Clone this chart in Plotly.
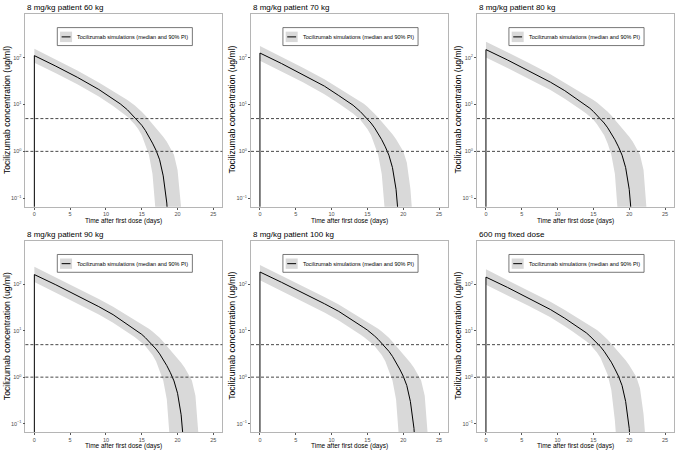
import plotly.graph_objects as go

# time grid (days after first dose)
days = [0, 3, 6, 9, 11, 12, 13, 14, 14.5, 15, 15.5, 16, 16.5, 17, 17.5, 18,
        18.5, 19, 19.5, 20, 20.5, 21, 21.5, 22, 22.5, 23, 23.5, 24]

titles = ['8 mg/kg patient 60 kg', '8 mg/kg patient 70 kg', '8 mg/kg patient 80 kg',
          '8 mg/kg patient 90 kg', '8 mg/kg patient 100 kg', '600 mg fixed dose']

# median concentration (ug/ml)
med_60 = [110, 65.6, 38.0, 20.9, 13.0, 10.3, 7.69, 5.40, 4.50, 3.60, 2.80, 2.10, 1.50, 1.05,
          0.66, 0.30, 0.079, 0.005]
med_70 = [125, 74.8, 43.6, 24.6, 15.5, 12.3, 9.63, 7.07, 5.92, 4.93, 4.02, 3.17, 2.42, 1.77,
          1.25, 0.83, 0.45, 0.155, 0.02]
med_80 = [148, 89.0, 52.5, 29.9, 19.7, 15.5, 12.3, 9.63, 8.32, 7.07, 5.92, 4.93, 4.02, 3.17,
          2.42, 1.77, 1.25, 0.83, 0.45, 0.155, 0.02]
med_90 = [161, 97.0, 57.5, 32.9, 22.1, 17.5, 13.8, 10.9, 9.63, 8.32, 7.07, 5.92, 4.93, 4.02,
          3.17, 2.42, 1.77, 1.25, 0.83, 0.45, 0.155, 0.02]
med_100 = [183, 110, 65.6, 38.0, 26.0, 20.9, 16.5, 13.0, 11.6, 10.3, 9.0, 7.69, 6.50, 5.40,
           4.50, 3.60, 2.80, 2.10, 1.50, 1.05, 0.66, 0.30, 0.079, 0.005]
med_600 = [142, 85.3, 50.1, 28.5, 18.5, 14.7, 11.6, 9.0, 7.69, 6.50, 5.40, 4.50, 3.60, 2.80,
           2.10, 1.50, 1.05, 0.66, 0.30, 0.079, 0.005]

# 5th percentile
lo_60 = [78, 46.3, 27.0, 14.8, 9.29, 7.29, 5.50, 3.80, 3.00, 2.20, 1.45, 0.85, 0.33, 0.04, 0.003]
lo_70 = [85.1, 50.5, 29.6, 16.5, 10.5, 8.24, 6.40, 4.70, 3.80, 3.00, 2.20, 1.45, 0.85, 0.33,
         0.04, 0.003]
lo_80 = [101, 60.0, 35.6, 20.3, 13.2, 10.5, 8.24, 6.40, 5.50, 4.70, 3.80, 3.00, 2.20, 1.45,
         0.85, 0.33, 0.04, 0.003]
lo_90 = [111, 65.5, 39.0, 22.3, 14.8, 11.8, 9.29, 7.29, 6.40, 5.50, 4.70, 3.80, 3.00, 2.20,
         1.45, 0.85, 0.33, 0.04, 0.003]
lo_100 = [121, 71.4, 42.6, 24.5, 16.5, 13.2, 10.5, 8.24, 7.29, 6.40, 5.50, 4.70, 3.80, 3.00,
          2.20, 1.45, 0.85, 0.33, 0.04, 0.003]
lo_600 = [97.0, 57.4, 34.0, 19.4, 12.5, 9.86, 7.75, 5.93, 5.08, 4.23, 3.38, 2.57, 1.78, 1.11,
          0.53, 0.115, 0.011]

# 95th percentile
hi_60 = [154, 91.6, 53.0, 29.3, 19.0, 15.5, 12.5, 9.6, 8.3, 7.0, 5.8, 4.75, 3.9, 3.2, 2.6,
         2.05, 1.6, 1.2, 0.85, 0.40, 0.063, 0.004]
hi_70 = [176, 104, 61.0, 34.6, 22.3, 18.1, 14.7, 11.7, 10.3, 8.92, 7.62, 6.37, 5.25, 4.31,
         3.53, 2.88, 2.31, 1.81, 1.39, 1.01, 0.58, 0.16, 0.016]
hi_80 = [218, 130, 76.9, 44.0, 29.3, 23.5, 19.0, 15.5, 14.0, 12.5, 11.0, 9.6, 8.3, 7.0, 5.8,
         4.75, 3.9, 3.2, 2.6, 2.05, 1.6, 1.2, 0.85, 0.40, 0.063, 0.004]
hi_90 = [238, 141, 84.0, 48.3, 32.7, 26.2, 21.1, 17.2, 15.5, 14.0, 12.5, 11.0, 9.6, 8.3, 7.0,
         5.8, 4.75, 3.9, 3.2, 2.6, 2.05, 1.6, 1.2, 0.85, 0.40, 0.063, 0.004]
hi_100 = [260, 154, 91.6, 53.0, 36.5, 29.3, 23.5, 19.0, 17.2, 15.5, 14.0, 12.5, 11.0, 9.6,
          8.3, 7.0, 5.8, 4.75, 3.9, 3.2, 2.6, 2.05, 1.6, 1.2, 0.85, 0.40, 0.063, 0.004]
hi_600 = [209, 124, 73.5, 42.0, 27.7, 22.3, 18.1, 14.7, 13.2, 11.7, 10.3, 8.92, 7.62, 6.37,
          5.25, 4.31, 3.53, 2.88, 2.31, 1.81, 1.39, 1.01, 0.58, 0.16, 0.016]

predose = 0.01          # concentration before the first dose (off the axis)
thresholds = [5, 1]     # dashed reference levels
legend_text = 'Tocilizumab simulations (median and 90% PI)'

medians = [med_60, med_70, med_80, med_90, med_100, med_600]
lowers = [lo_60, lo_70, lo_80, lo_90, lo_100, lo_600]
uppers = [hi_60, hi_70, hi_80, hi_90, hi_100, hi_600]

W, H = 677, 452
col_left = [25.4, 251, 477]
col_right = [222.3, 448, 674]
row_top = [13.5, 240.5]
row_bottom = [206.7, 432]

FONT = 'Liberation Sans, Arial, sans-serif'
BAND = '#d9d9d9'

fig = go.Figure()
shapes = []
annotations = []
layout = {}

for i in range(6):
    r, c = divmod(i, 3)
    n = '' if i == 0 else str(i + 1)
    xa, ya = 'x' + n, 'y' + n

    lo, hi, med = lowers[i], uppers[i], medians[i]
    band_x = days[:len(hi)] + days[:len(lo)][::-1]
    band_y = hi + lo[::-1]
    fig.add_trace(go.Scatter(x=band_x, y=band_y, fill='toself', fillcolor=BAND,
                             mode='lines', line=dict(width=0), hoverinfo='skip',
                             showlegend=False, xaxis=xa, yaxis=ya))
    fig.add_trace(go.Scatter(x=[0] + days[:len(med)], y=[predose] + med, mode='lines',
                             line=dict(color='black', width=1), showlegend=False,
                             xaxis=xa, yaxis=ya))

    l, rr = col_left[c], col_right[c]
    t, b = row_top[r], row_bottom[r]
    axis_common = dict(showgrid=False, zeroline=False, showline=True, mirror=True,
                       linecolor='#b5b5b5', linewidth=0.8, ticks='outside', ticklen=2,
                       tickwidth=0.6, tickcolor='#555',
                       tickfont=dict(size=5.5, color='#4d4d4d', family=FONT))
    layout['xaxis' + n] = dict(axis_common, domain=[l / W, rr / W], anchor=ya,
                               range=[-1.25, 26.25], tick0=0, dtick=5)
    layout['yaxis' + n] = dict(axis_common, domain=[1 - b / H, 1 - t / H], anchor=xa,
                               type='log', range=[-1.18, 2.94],
                               tickvals=[0.1, 1, 10, 100],
                               ticktext=['10<sup>−1</sup>', '10<sup>0</sup>',
                                         '10<sup>1</sup>', '10<sup>2</sup>'])

    for thr in thresholds:
        shapes.append(dict(type='line', xref=xa + ' domain', yref=ya, x0=0, x1=1,
                           y0=thr, y1=thr, layer='above',
                           line=dict(color='#333333', width=0.9, dash='3px,2px')))

    # legend box
    dref = dict(xref=xa + ' domain', yref=ya + ' domain')
    shapes.append(dict(type='rect', x0=0.162, x1=0.848, y0=0.834, y1=0.927,
                       line=dict(color='#555555', width=0.8), fillcolor='white',
                       layer='above', **dref))
    shapes.append(dict(type='rect', x0=0.176, x1=0.237, y0=0.852, y1=0.906,
                       line=dict(width=0), fillcolor=BAND, layer='above', **dref))
    shapes.append(dict(type='line', x0=0.184, x1=0.229, y0=0.879, y1=0.879,
                       line=dict(color='black', width=1), layer='above', **dref))
    annotations.append(dict(text=legend_text, x=0.252, y=0.879, xanchor='left',
                            yanchor='middle', showarrow=False,
                            font=dict(size=5.5, color='black', family=FONT), **dref))

    # titles
    annotations.append(dict(text=titles[i], xref='paper', yref='paper', x=l / W,
                            y=1 - (t - 6) / H, xanchor='left', yanchor='middle',
                            showarrow=False, font=dict(size=8, color='black', family=FONT)))
    annotations.append(dict(text='Time after first dose (days)', xref='paper', yref='paper',
                            x=(l + rr) / 2 / W, y=1 - (b + 14.2) / H, xanchor='center',
                            yanchor='middle', showarrow=False,
                            font=dict(size=6.5, color='black', family=FONT)))
    annotations.append(dict(text='Tocilizumab concentration (ug/ml)', xref='paper',
                            yref='paper', x=(l - 18.5) / W, y=1 - (t + b) / 2 / H,
                            xanchor='center', yanchor='middle', textangle=-90,
                            showarrow=False, font=dict(size=8.6, color='black', family=FONT)))

fig.update_layout(**layout)
fig.update_layout(width=W, height=H, margin=dict(l=0, r=0, t=0, b=0),
                  paper_bgcolor='white', plot_bgcolor='white',
                  font=dict(family=FONT), shapes=shapes, annotations=annotations,
                  showlegend=False)

fig.write_html('out.html', config={'displayModeBar': False},
               post_script="document.body.style.margin='0px';")
